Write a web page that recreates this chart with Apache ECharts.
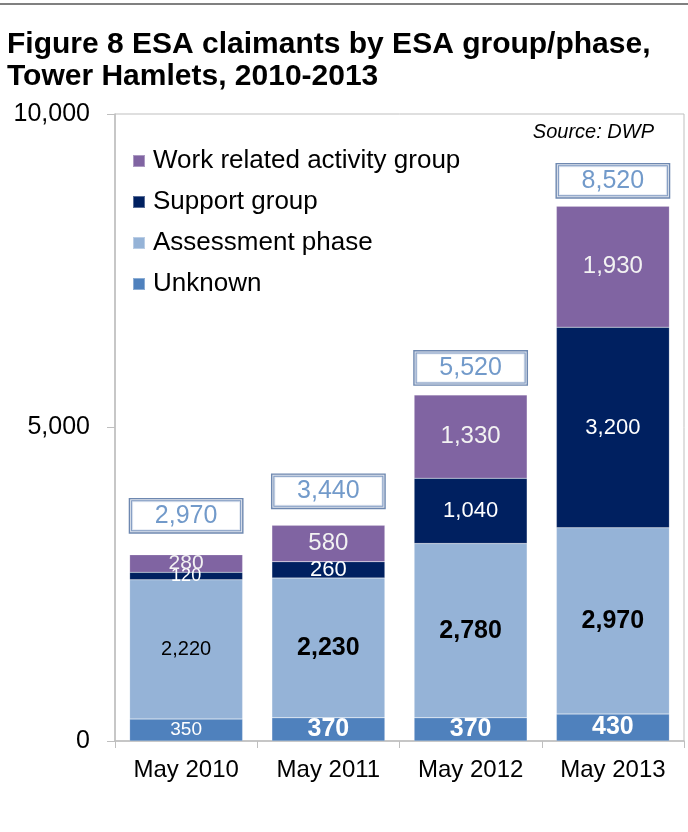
<!DOCTYPE html>
<html>
<head>
<meta charset="utf-8">
<script src="https://cdn.jsdelivr.net/npm/echarts@6/dist/echarts.min.js"></script>
<style>html,body{margin:0;padding:0;background:#fff;}#c{width:688px;height:832px;}</style>
</head>
<body>
<div id="c"></div>
<script>
// ---- data ----
const categories = ['May 2010', 'May 2011', 'May 2012', 'May 2013'];
const unknown = [350, 370, 370, 430];
const assessment = [2220, 2230, 2780, 2970];
const support = [120, 260, 1040, 3200];
const workRelated = [280, 580, 1330, 1930];
const totals = [2970, 3440, 5520, 8520];
const seriesNames = ['Unknown', 'Assessment phase', 'Support group', 'Work related activity group'];

// ---- styles ----
const FONT = 'Liberation Sans, Arial, sans-serif';
const colors = ['#4F81BD', '#95B3D7', '#002060', '#8064A2'];
const labelColors = ['#ffffff', '#000000', '#ffffff', '#F2F2F2'];
const labelSizes = [[19, 25, 25, 25], [20, 25, 25, 25], [18, 22, 22, 22], [21, 24, 24, 24]];
const labelWeights = [['normal', 'bold', 'bold', 'bold'], ['normal', 'bold', 'bold', 'bold'],
  ['normal', 'normal', 'normal', 'normal'], ['normal', 'normal', 'normal', 'normal']];
const boxGaps = [22, 17, 10, 9];

const fmt = v => Number(v).toLocaleString('en-US');
const valueSets = [unknown, assessment, support, workRelated];

const barSeries = valueSets.map((vals, si) => ({
  name: seriesNames[si],
  type: 'bar',
  stack: 'total',
  barWidth: 113,
  itemStyle: { color: colors[si], borderColor: 'rgba(255,255,255,0.35)', borderWidth: 0.5 },
  label: { show: true, position: 'inside', color: labelColors[si], fontFamily: FONT, formatter: p => fmt(p.value) },
  data: vals.map((v, i) => ({
    value: v,
    label: { fontSize: labelSizes[si][i], fontWeight: labelWeights[si][i] }
  }))
}));

const totalSeries = {
  name: 'Total',
  type: 'scatter',
  symbolSize: 1,
  itemStyle: { color: 'rgba(0,0,0,0)' },
  z: 5,
  data: totals.map((v, i) => ({
    value: v,
    label: { distance: boxGaps[i] }
  })),
  label: {
    show: true,
    position: 'top',
    formatter: p => '{b|' + fmt(p.value) + '}',
    backgroundColor: '#ffffff',
    borderColor: '#4A6A9C',
    borderWidth: 1.4,
    padding: 2,
    rich: {
      b: {
        width: 108, height: 29, lineHeight: 29, align: 'center',
        borderColor: '#5B7DB0', borderWidth: 1,
        backgroundColor: '#ffffff',
        fontSize: 25, color: '#4F81BD', fontFamily: FONT
      }
    }
  }
};

const chart = echarts.init(document.getElementById('c'), null, { renderer: 'canvas' });
chart.setOption({
  animation: false,
  backgroundColor: '#ffffff',
  title: {
    text: 'Figure 8 ESA claimants by ESA group/phase,\nTower Hamlets, 2010-2013',
    left: 7, top: 29, padding: 0,
    textStyle: { fontFamily: FONT, fontWeight: 'bold', fontSize: 30, lineHeight: 32, color: '#000' }
  },
  graphic: [
    { type: 'rect', left: 0, top: 3, shape: { width: 688, height: 2 }, style: { fill: '#808080' } },
    { type: 'text', right: 34, top: 122, style: { text: 'Source: DWP', font: 'italic 20px ' + FONT, fill: '#000' } }
  ],
  legend: {
    data: ['Work related activity group', 'Support group', 'Assessment phase', 'Unknown'],
    orient: 'vertical',
    left: 132, top: 148, padding: 0,
    itemWidth: 12, itemHeight: 12, itemGap: 15,
    icon: 'rect',
    textStyle: { fontFamily: FONT, fontSize: 26, lineHeight: 26, color: '#000', padding: [0, 0, 0, 3] }
  },
  grid: {
    left: 115, top: 114, right: 4, bottom: 91,
    show: true, borderColor: '#BFBFBF', borderWidth: 1, backgroundColor: 'transparent'
  },
  xAxis: {
    type: 'category',
    data: categories,
    axisLine: { lineStyle: { color: '#BFBFBF', width: 1.5 } },
    axisTick: { show: true, length: 7, lineStyle: { color: '#BFBFBF' } },
    axisLabel: { fontFamily: FONT, fontSize: 24, color: '#000', margin: 17 }
  },
  yAxis: {
    type: 'value',
    min: 0, max: 10000, interval: 5000,
    axisLine: { show: true, lineStyle: { color: '#BFBFBF', width: 1.5 } },
    axisTick: { show: true, length: 8, lineStyle: { color: '#BFBFBF' } },
    splitLine: { show: false },
    axisLabel: { fontFamily: FONT, fontSize: 25, color: '#000', margin: 25, formatter: v => fmt(v) }
  },
  series: [...barSeries, totalSeries]
});
</script>
</body>
</html>
